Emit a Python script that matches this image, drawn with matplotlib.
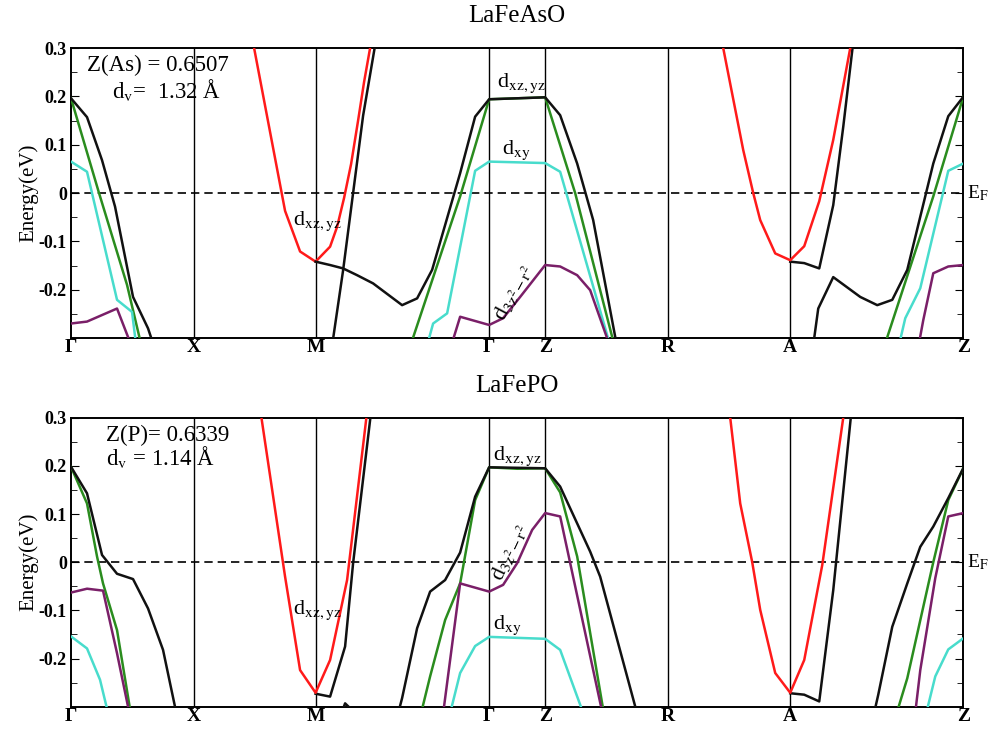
import matplotlib
matplotlib.use('Agg')
import matplotlib.pyplot as plt
from matplotlib.ticker import MultipleLocator, FixedLocator

plt.rcParams['font.family'] = ['Liberation Serif', 'DejaVu Serif']
plt.rcParams['mathtext.fontset'] = 'stix'

# high symmetry points along the path (arb. units)
kpt_labels = ['Γ', 'X', 'M', 'Γ', 'Z', 'R', 'A', 'Z']
kpt_pos = [0.0, 1.23, 2.445, 4.18, 4.74, 5.97, 7.19, 8.92]

ytick_vals = [0.3, 0.2, 0.1, 0.0, -0.1, -0.2]
ytick_text = ['0.3', '0.2', '0.1', '0', '-0.1', '-0.2']

# ---------------- LaFeAsO ----------------
as_black1_k = [0.0, 0.16, 0.31, 0.44, 0.62, 0.77, 0.85]
as_black1_e = [0.196, 0.157, 0.068, -0.028, -0.215, -0.28, -0.33]
as_green1_k = [0.0, 0.28, 0.56, 0.72]
as_green1_e = [0.196, 0.0, -0.19, -0.33]
as_cyan1_k = [0.0, 0.16, 0.46, 0.61, 0.66]
as_cyan1_e = [0.065, 0.044, -0.221, -0.246, -0.33]
as_purple1_k = [0.0, 0.16, 0.46, 0.63]
as_purple1_e = [-0.270, -0.266, -0.239, -0.33]

as_red1_k = [1.80, 2.14, 2.29, 2.445, 2.59, 2.66, 2.73, 2.80, 2.87, 2.93, 2.99, 3.02]
as_red1_e = [0.333, -0.037, -0.121, -0.142, -0.111, -0.07, -0.01, 0.06, 0.15, 0.23, 0.30, 0.33]
as_black2_k = [2.60, 2.72, 2.82, 2.92, 3.06]
as_black2_e = [-0.33, -0.16, 0.0, 0.16, 0.33]
as_black3_k = [2.445, 2.59, 2.72, 2.86, 3.02, 3.31, 3.46, 3.61, 3.89, 4.04, 4.18, 4.46, 4.74,
               4.89, 5.06, 5.22, 5.47]
as_black3_e = [-0.142, -0.149, -0.156, -0.170, -0.187, -0.232, -0.218, -0.159, 0.041, 0.158,
               0.194, 0.196, 0.198, 0.161, 0.061, -0.056, -0.33]
as_green2_k = [3.37, 3.89, 4.18, 4.46, 4.74, 5.04, 5.45]
as_green2_e = [-0.33, -0.007, 0.194, 0.196, 0.198, 0.0, -0.33]
as_cyan2_k = [3.54, 3.62, 3.76, 4.04, 4.18, 4.74, 4.89, 5.41]
as_cyan2_e = [-0.33, -0.270, -0.249, 0.046, 0.065, 0.062, 0.044, -0.33]
as_purple2_k = [3.78, 3.89, 4.18, 4.32, 4.49, 4.74, 4.89, 5.06, 5.19, 5.41]
as_purple2_e = [-0.33, -0.256, -0.273, -0.259, -0.215, -0.149, -0.152, -0.170, -0.201, -0.33]

as_red2_k = [6.49, 6.52, 6.72, 6.82, 6.89, 7.04, 7.19, 7.33, 7.48, 7.62, 7.79, 7.81]
as_red2_e = [0.33, 0.30, 0.089, 0.0, -0.056, -0.125, -0.139, -0.110, -0.017, 0.110, 0.30, 0.33]
as_black4_k = [7.19, 7.33, 7.48, 7.62, 7.72, 7.83]
as_black4_e = [-0.142, -0.145, -0.156, -0.025, 0.137, 0.33]
as_black5_k = [7.41, 7.47, 7.62, 7.89, 8.06, 8.21, 8.36, 8.62, 8.77, 8.92]
as_black5_e = [-0.33, -0.239, -0.174, -0.215, -0.232, -0.221, -0.159, 0.061, 0.159, 0.199]
as_green3_k = [8.11, 8.62, 8.92]
as_green3_e = [-0.33, -0.007, 0.199]
as_cyan3_k = [8.26, 8.34, 8.49, 8.77, 8.92]
as_cyan3_e = [-0.33, -0.259, -0.197, 0.046, 0.061]
as_purple3_k = [8.46, 8.52, 8.62, 8.77, 8.92]
as_purple3_e = [-0.33, -0.263, -0.166, -0.152, -0.149]

# ---------------- LaFePO ----------------
p_black1_k = [0.0, 0.16, 0.31, 0.46, 0.62, 0.77, 0.92, 1.07]
p_black1_e = [0.198, 0.143, 0.015, -0.024, -0.035, -0.096, -0.182, -0.33]
p_green1_k = [0.0, 0.16, 0.26, 0.32, 0.46, 0.61]
p_green1_e = [0.198, 0.122, 0.012, -0.044, -0.141, -0.33]
p_purple1_k = [0.0, 0.16, 0.32, 0.46, 0.60]
p_purple1_e = [-0.063, -0.055, -0.059, -0.189, -0.33]
p_cyan1_k = [0.0, 0.16, 0.29, 0.39]
p_cyan1_e = [-0.154, -0.179, -0.244, -0.33]

p_red1_k = [1.88, 2.14, 2.29, 2.445, 2.59, 2.76, 2.97]
p_red1_e = [0.333, -0.030, -0.224, -0.271, -0.203, -0.037, 0.33]
p_black2_k = [2.445, 2.59, 2.74, 2.82, 3.01]
p_black2_e = [-0.273, -0.279, -0.175, -0.002, 0.33]
p_black3_k = [2.71, 2.74, 2.80]
p_black3_e = [-0.31, -0.293, -0.305]
p_black4_k = [3.25, 3.31, 3.46, 3.59, 3.74, 3.89, 4.04, 4.18, 4.74, 4.89, 5.19, 5.29, 5.68]
p_black4_e = [-0.33, -0.282, -0.137, -0.061, -0.037, 0.020, 0.136, 0.197, 0.195, 0.157,
              0.022, -0.030, -0.33]
p_green2_k = [3.48, 3.59, 3.74, 3.89, 4.04, 4.18, 4.46, 4.74, 4.89, 5.06, 5.34]
p_green2_e = [-0.33, -0.237, -0.120, -0.044, 0.129, 0.197, 0.194, 0.195, 0.145, 0.012, -0.33]
p_purple2_k = [3.71, 3.89, 4.18, 4.32, 4.46, 4.61, 4.74, 4.89, 5.33]
p_purple2_e = [-0.33, -0.044, -0.061, -0.047, -0.002, 0.067, 0.102, 0.095, -0.33]
p_cyan2_k = [3.77, 3.89, 4.04, 4.18, 4.74, 4.89, 5.15]
p_cyan2_e = [-0.33, -0.230, -0.174, -0.155, -0.159, -0.182, -0.33]

p_red2_k = [6.57, 6.59, 6.69, 6.81, 6.89, 7.04, 7.19, 7.33, 7.51, 7.72, 7.74]
p_red2_e = [0.33, 0.30, 0.122, 0.0, -0.099, -0.230, -0.271, -0.203, -0.006, 0.30, 0.33]
p_black5_k = [7.19, 7.33, 7.48, 7.62, 7.81]
p_black5_e = [-0.272, -0.275, -0.289, -0.058, 0.33]
p_black6_k = [8.01, 8.07, 8.21, 8.36, 8.49, 8.62, 8.77, 8.92]
p_black6_e = [-0.33, -0.275, -0.134, -0.044, 0.032, 0.074, 0.133, 0.195]
p_green3_k = [8.23, 8.36, 8.62, 8.77, 8.92]
p_green3_e = [-0.33, -0.241, 0.0, 0.129, 0.195]
p_purple3_k = [8.43, 8.49, 8.64, 8.77, 8.92]
p_purple3_e = [-0.33, -0.224, -0.033, 0.095, 0.102]
p_cyan3_k = [8.53, 8.64, 8.77, 8.92]
p_cyan3_e = [-0.33, -0.237, -0.181, -0.158]

RED = '#ff1a1a'
BLACK = '#111111'
GREEN = '#2a8c1e'
CYAN = '#48dccc'
PURPLE = '#7a1f68'


def draw_panel(ax, bands, title, zlabel, dvlabel, zpos, dvpos, orb_labels):
    for k, e, c in bands:
        ax.plot(k, e, color=c, lw=1.8, zorder=3)
    for x in kpt_pos[1:-1]:
        ax.axvline(x, color='black', lw=1.0, zorder=1)
    ax.axhline(0, color='black', lw=1.2, ls=(0, (5, 3)), zorder=2)
    ax.set_xlim(kpt_pos[0], kpt_pos[-1])
    ax.set_ylim(-0.3, 0.3)
    ax.xaxis.set_major_locator(FixedLocator(kpt_pos))
    ax.set_xticklabels(kpt_labels, fontsize=14, fontweight='bold')
    ax.tick_params(axis='x', length=0, pad=1)
    ax.set_yticks(ytick_vals)
    ax.set_yticklabels(ytick_text, fontsize=13, fontweight='bold')
    ax.yaxis.set_minor_locator(MultipleLocator(0.05))
    ax.tick_params(axis='y', which='both', direction='in', left=True, right=True, pad=3)
    ax.tick_params(axis='y', which='major', length=6)
    ax.tick_params(axis='y', which='minor', length=4)
    for s in ax.spines.values():
        s.set_linewidth(1.4)
    ax.text(0.5, 1.11, title, transform=ax.transAxes, ha='center', va='center', fontsize=18)
    ax.text(zpos[0], zpos[1], zlabel, transform=ax.transAxes, ha='left', va='center', fontsize=16.5)
    ax.text(dvpos[0], dvpos[1], dvlabel, transform=ax.transAxes, ha='left', va='center', fontsize=16.5)
    ax.text(1.004, 0.5, r'E$_\mathrm{F}$', transform=ax.transAxes, ha='left', va='center', fontsize=14)
    ax.set_ylabel('Energy(eV)', fontsize=15, labelpad=0)
    for txt, x, y, rot in orb_labels:
        ax.text(x, y, txt, ha='left', va='center', fontsize=16, rotation=rot,
                rotation_mode='anchor', zorder=5)


fig = plt.figure(figsize=(9.89, 7.31), dpi=100)
ax1 = fig.add_axes([0.0718, 0.5376, 0.9022, 0.3967])
ax2 = fig.add_axes([0.0718, 0.0332, 0.9022, 0.3954])

bands_as = [
    (as_green1_k, as_green1_e, GREEN), (as_cyan1_k, as_cyan1_e, CYAN),
    (as_purple1_k, as_purple1_e, PURPLE), (as_black1_k, as_black1_e, BLACK),
    (as_black2_k, as_black2_e, BLACK), (as_red1_k, as_red1_e, RED),
    (as_green2_k, as_green2_e, GREEN), (as_cyan2_k, as_cyan2_e, CYAN),
    (as_purple2_k, as_purple2_e, PURPLE), (as_black3_k, as_black3_e, BLACK),
    (as_black4_k, as_black4_e, BLACK), (as_red2_k, as_red2_e, RED),
    (as_green3_k, as_green3_e, GREEN), (as_cyan3_k, as_cyan3_e, CYAN),
    (as_purple3_k, as_purple3_e, PURPLE), (as_black5_k, as_black5_e, BLACK),
]
bands_p = [
    (p_green1_k, p_green1_e, GREEN), (p_cyan1_k, p_cyan1_e, CYAN),
    (p_purple1_k, p_purple1_e, PURPLE), (p_black1_k, p_black1_e, BLACK),
    (p_black2_k, p_black2_e, BLACK), (p_black3_k, p_black3_e, BLACK),
    (p_red1_k, p_red1_e, RED),
    (p_green2_k, p_green2_e, GREEN), (p_cyan2_k, p_cyan2_e, CYAN),
    (p_purple2_k, p_purple2_e, PURPLE), (p_black4_k, p_black4_e, BLACK),
    (p_black5_k, p_black5_e, BLACK), (p_red2_k, p_red2_e, RED),
    (p_green3_k, p_green3_e, GREEN), (p_purple3_k, p_purple3_e, PURPLE),
    (p_cyan3_k, p_cyan3_e, CYAN), (p_black6_k, p_black6_e, BLACK),
]

draw_panel(ax1, bands_as, 'LaFeAsO', 'Z(As) = 0.6507', r'd$_\mathrm{v}$=  1.32 Å',
           (0.018, 0.941), (0.046, 0.855),
           [(r'd$_\mathrm{xz,yz}$', 2.22, -0.059, 0), (r'd$_\mathrm{xz,yz}$', 4.26, 0.228, 0),
            (r'd$_\mathrm{xy}$', 4.31, 0.089, 0), (r'd$_\mathrm{3z^2-r^2}$', 4.28, -0.26, 62)])
draw_panel(ax2, bands_p, 'LaFePO', 'Z(P)= 0.6339', r'd$_\mathrm{v}$ = 1.14 Å',
           (0.039, 0.940), (0.039, 0.865),
           [(r'd$_\mathrm{xz,yz}$', 2.22, -0.099, 0), (r'd$_\mathrm{xz,yz}$', 4.22, 0.219, 0),
            (r'd$_\mathrm{xy}$', 4.22, -0.130, 0), (r'd$_\mathrm{3z^2-r^2}$', 4.25, -0.035, 65)])

fig.savefig('out.png', dpi=100)
